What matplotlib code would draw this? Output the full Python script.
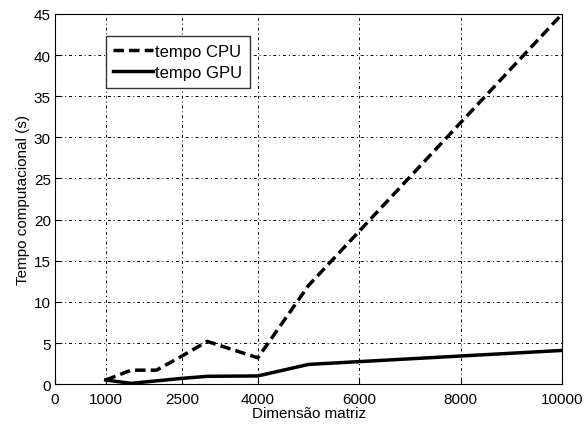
import matplotlib
matplotlib.use("Agg")
import matplotlib.pyplot as plt

plt.rcParams['font.family'] = ['Liberation Sans', 'DejaVu Sans']

# matrix sizes and computation times (s)
dims = [1000, 1500, 2000, 2500, 3000, 4000, 5000, 10000]
cpu_time = [0.5, 1.7, 1.7, 3.4, 5.2, 3.2, 12.0, 45.0]
gpu_time = [0.5, 0.1, 0.4, 0.7, 0.95, 1.0, 2.4, 4.1]

xticks = [0, 1000, 2500, 4000, 6000, 8000, 10000]
yticks = list(range(0, 46, 5))

fig = plt.figure(figsize=(5.85, 4.27), dpi=100)
ax = fig.add_axes([0.094, 0.098, 0.867, 0.867])

ax.plot(dims, cpu_time, color="black", linestyle=(0, (3, 1.5)), linewidth=2.5, label="tempo CPU")
ax.plot(dims, gpu_time, color="black", linestyle="-", linewidth=2.5, label="tempo GPU")

ax.set_xlim(0, 10000)
ax.set_ylim(0, 45)
ax.set_xticks(xticks)
ax.set_yticks(yticks)
ax.tick_params(direction="in", labelsize=11, length=4, color="black")
ax.tick_params(axis="x", pad=6)
ax.tick_params(axis="y", pad=3)
ax.grid(True, linestyle=(0, (1, 3, 3, 3)), color="black", linewidth=0.7)

ax.set_xlabel("Dimensão matriz", fontsize=11, labelpad=0)
ax.set_ylabel("Tempo computacional (s)", fontsize=11, labelpad=3)

leg = ax.legend(loc="upper left", bbox_to_anchor=(0.1, 0.94), fontsize=12,
                fancybox=False, framealpha=1, edgecolor="#333333",
                handlelength=2.4, handletextpad=0.1, borderpad=0.45,
                borderaxespad=0, labelspacing=0.4)
leg.get_frame().set_linewidth(1.0)

fig.savefig("out.png", dpi=100)
